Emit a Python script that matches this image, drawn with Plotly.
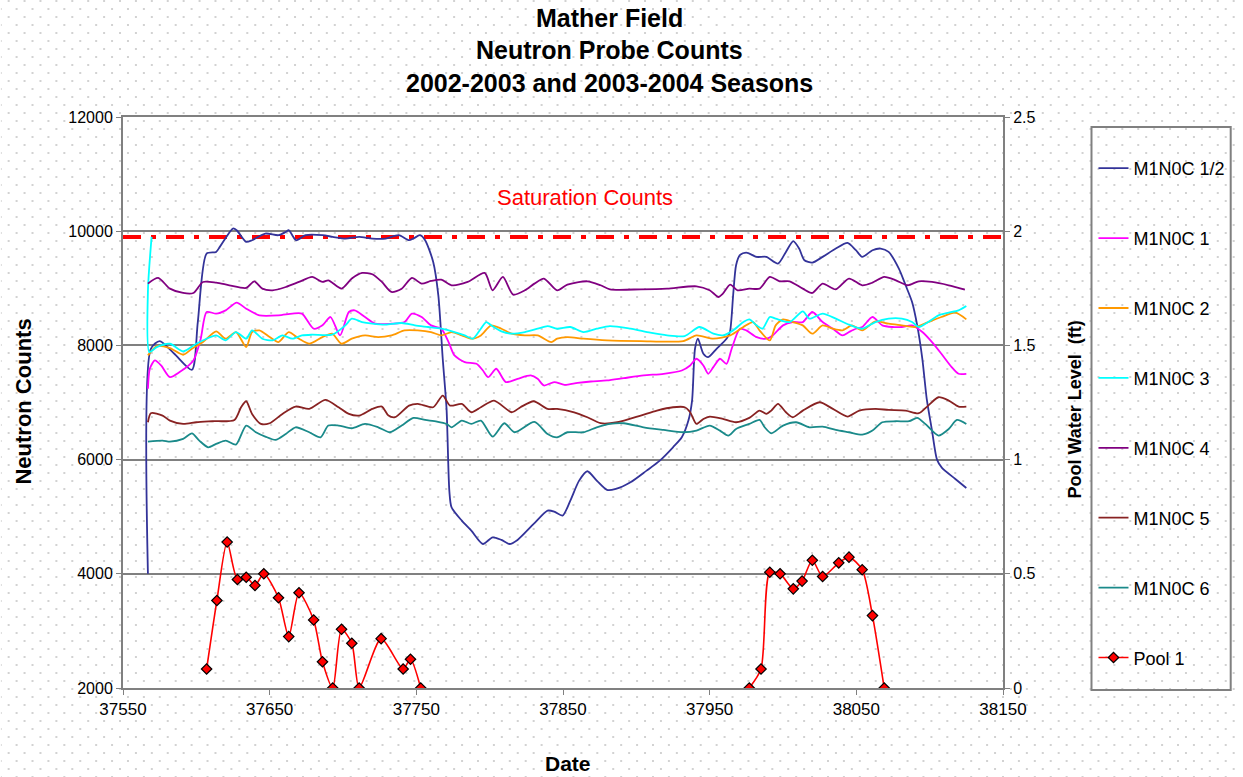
import base64
import plotly.graph_objects as go

# ---------------- data ----------------
m12_x = [37567, 37569, 37575, 37585, 37597, 37601, 37607, 37613.5, 37616, 37625, 37627.5, 37634, 37638,
         37647, 37656, 37661, 37663, 37668, 37674.5, 37686, 37693, 37701.6, 37711, 37720, 37729, 37738,
         37745, 37748, 37752.5, 37756, 37761.5, 37765, 37768, 37770.6, 37772.5, 37774, 37781, 37787.5,
         37795.4, 37802, 37808, 37813.5, 37819, 37830, 37839.5, 37844, 37849.7, 37855, 37861, 37866.6,
         37873, 37880, 37886, 37896, 37907, 37916, 37925, 37931, 37935.5, 37938, 37940, 37942, 37945.7,
         37949, 37954.7, 37961.5, 37963.8, 37966, 37968, 37970.6, 37975, 37982, 37988.6, 37996.6, 38002,
         38007, 38011, 38014.6, 38020, 38027, 38036, 38044, 38049.7, 38054, 38061, 38066.6, 38072, 38079,
         38083.6, 38088, 38091.5, 38095, 38098, 38101.6, 38105, 38108.4, 38117.5, 38125]
m12_y = [4000, 7941, 8076, 7854, 7573, 8409, 9608, 9637, 9725, 10047, 10018, 9813, 9842,
         9959, 9930, 9988, 10018, 9842, 9930, 9930, 9901, 9871, 9901, 9871, 9871, 9930,
         9842, 9871, 9930, 9842, 9462, 8877, 7766, 6889, 5457, 5165, 4931, 4756,
         4522, 4639, 4593, 4522, 4593, 4873, 5106, 5089, 5019, 5282, 5632, 5796,
         5632, 5469, 5486, 5603, 5807, 5982, 6216, 6391, 6683, 7034, 7941, 8117, 7854,
         7795, 7941, 8117, 8234, 8877, 9404, 9579, 9626, 9550, 9550, 9433, 9637,
         9825, 9696, 9491, 9450, 9550, 9696, 9795, 9667, 9550, 9667, 9696, 9637, 9345,
         9053, 8760, 8351, 7766, 7064, 6508, 6000, 5854, 5661, 5503]

m1_x = [37567, 37568.3, 37571.7, 37576, 37582, 37588.6, 37598, 37603, 37607, 37613.5, 37620, 37627.5,
        37634, 37643, 37656, 37665.5, 37672, 37680, 37686, 37691.5, 37698, 37704, 37708, 37715, 37722,
        37733, 37742, 37747, 37753.6, 37760, 37767, 37772, 37776, 37783, 37791, 37795.4, 37799, 37804.5,
        37811, 37819, 37828, 37832.7, 37837, 37844, 37851, 37860, 37869, 37880, 37891.5, 37905, 37918.6,
        37931, 37936.7, 37941, 37945.7, 37949, 37952.5, 37957, 37961.5, 37965, 37970.6, 37975, 37982,
        37988.6, 37993, 38000, 38006.7, 38013.5, 38020, 38027, 38034, 38040.6, 38045, 38049.7, 38054,
        38061, 38067.7, 38074.5, 38081, 38088, 38095, 38101.6, 38108, 38115, 38119.7, 38125]
m1_y = [7240, 7591, 7737, 7649, 7444, 7532, 7737, 8117, 8585, 8556, 8614, 8749,
        8643, 8526, 8526, 8556, 8556, 8292, 8351, 8497, 8175, 8585, 8614, 8497, 8380,
        8380, 8409, 8556, 8497, 8351, 8292, 8058, 7825, 7708, 7678, 7561, 7444, 7591,
        7357, 7415, 7474, 7415, 7298, 7357, 7310, 7345, 7368, 7386, 7427, 7474, 7503,
        7561, 7649, 7766, 7649, 7503, 7620, 7766, 7678, 7941, 8292, 8263, 8146,
        8117, 8175, 8351, 8409, 8409, 8585, 8409, 8292, 8175, 8234, 8292, 8322,
        8497, 8351, 8322, 8322, 8351, 8234, 8058, 7854, 7620, 7503, 7503]

m2_x = [37567, 37573, 37582, 37591, 37597, 37604.5, 37613.5, 37620, 37627, 37634, 37638, 37643, 37650,
        37656, 37663, 37670, 37677, 37686, 37692.6, 37699, 37706, 37715, 37724, 37733, 37742, 37751,
        37760, 37767, 37774, 37781, 37787.5, 37794, 37801, 37808, 37815, 37824, 37832.7, 37842, 37846,
        37853, 37864, 37880, 37903, 37932, 37941, 37952.5, 37964, 37973, 37979.6, 37984, 37991, 37995,
        38000, 38006.7, 38013.5, 38020, 38027, 38034, 38040.6, 38047, 38054, 38063, 38072, 38081, 38090,
        38099, 38108, 38117.5, 38125]
m2_y = [7825, 7988, 7953, 7836, 7941, 8058, 8246, 8117, 8234, 7971, 8234, 8263, 8146,
        8058, 8234, 8117, 8029, 8146, 8205, 8029, 8117, 8175, 8146, 8175, 8263, 8263,
        8234, 8175, 8234, 8175, 8117, 8175, 8351, 8292, 8205, 8175, 8175, 8058, 8117,
        8146, 8117, 8088, 8076, 8076, 8175, 8117, 8175, 8322, 8409, 8263, 8088, 8351,
        8456, 8409, 8351, 8205, 8351, 8292, 8263, 8351, 8263, 8421, 8380, 8351, 8322,
        8409, 8497, 8573, 8456]

m3_x = [37569.5, 37567, 37568, 37573, 37582, 37591, 37600, 37607, 37613.5, 37620, 37627, 37634, 37638,
        37645, 37652, 37658.7, 37665.5, 37672, 37679, 37692.6, 37701.6, 37706, 37713, 37720, 37729,
        37740, 37749, 37758, 37767, 37776, 37783, 37788.6, 37794, 37797.7, 37801, 37808, 37815, 37824,
        37832.7, 37839.5, 37846, 37855, 37864, 37873, 37882, 37896, 37909.5, 37921, 37933, 37943,
        37952.5, 37959, 37966, 37973, 37977, 37982, 37986, 37991, 37995, 38004.5, 38013.5, 38018, 38027,
        38036, 38045, 38054, 38063, 38072, 38081, 38088, 38092.6, 38099, 38106, 38113, 38119.7, 38125]
m3_y = [9900, 8950, 7883, 7971, 8029, 7895, 8029, 8117, 8175, 8088, 8234, 8117, 8263,
        8117, 8088, 8175, 8117, 8175, 8187, 8187, 8351, 8468, 8409, 8380, 8363,
        8392, 8351, 8322, 8292, 8234, 8175, 8117, 8292, 8409, 8351, 8246, 8205, 8234,
        8292, 8339, 8292, 8322, 8234, 8292, 8339, 8292, 8222, 8175, 8164, 8322,
        8205, 8175, 8263, 8409, 8456, 8351, 8292, 8497, 8468, 8409, 8596, 8468, 8556,
        8468, 8363, 8292, 8409, 8468, 8468, 8409, 8322, 8409, 8526, 8573, 8614, 8690]

m4_x = [37567, 37574, 37582, 37591, 37598, 37604.5, 37613.5, 37622.5, 37634, 37639.5, 37645, 37652, 37661,
        37670, 37679, 37686, 37690, 37699, 37706, 37713, 37720, 37726.5, 37733, 37740, 37747, 37753.6,
        37760, 37767, 37774, 37785, 37796.6, 37802, 37809, 37816, 37824, 37830.5, 37837, 37846, 37853,
        37866.6, 37875.6, 37882, 37903, 37921, 37941, 37950, 37956, 37959, 37964, 37969, 37977, 37984,
        37991, 37997.7, 38004.5, 38013.5, 38020, 38027, 38036, 38045, 38054, 38061, 38069, 38077, 38085,
        38092.6, 38101.6, 38113, 38124]
m4_y = [9082, 9181, 8994, 8918, 8918, 9111, 9099, 9053, 9006, 9123, 8994, 8965, 9023,
        9111, 9199, 9111, 9140, 8994, 9170, 9269, 9246, 9111, 8936, 8994, 9181, 9082,
        9129, 9152, 9053, 9111, 9269, 8965, 9199, 8889, 8965, 9082, 9170, 8965, 9064,
        9123, 9053, 8982, 8982, 8994, 9035, 8965, 8848, 8906, 9064, 8965, 8994, 8994,
        9199, 9123, 9123, 8994, 8918, 9082, 8982, 9170, 9053, 9099, 9199, 9140, 9053,
        9123, 9111, 9053, 8977]

m5_x = [37567, 37569, 37577, 37582, 37591, 37600, 37611, 37626, 37630.5, 37634, 37638, 37644, 37650,
        37658.7, 37667.7, 37677, 37688, 37697, 37704, 37711, 37720, 37726.5, 37731, 37735.5, 37745, 37751,
        37761.5, 37768, 37773, 37781, 37787.5, 37794, 37803, 37815, 37821, 37830, 37839.5, 37846, 37857.6,
        37866.6, 37875.6, 37887, 37903, 37914, 37925, 37933, 37936.7, 37941, 37945.7, 37950, 37959, 37968,
        37977, 37984, 37988.6, 37992, 37996.6, 38002, 38006.7, 38013.5, 38025, 38034, 38044, 38052, 38063,
        38072, 38083.6, 38092.6, 38099, 38106, 38113, 38119.7, 38125]
m5_y = [6654, 6812, 6771, 6683, 6625, 6654, 6672, 6695, 6917, 7022, 6800, 6625, 6637,
        6800, 6929, 6888, 7045, 6917, 6800, 6771, 6888, 6929, 6771, 6742, 6946, 6975,
        6917, 7121, 6946, 6975, 6829, 6917, 7034, 6829, 6917, 7022, 6888, 6888, 6829,
        6742, 6637, 6654, 6771, 6858, 6917, 6917, 6829, 6625, 6712, 6753, 6712, 6654,
        6730, 6858, 6800, 6858, 6975, 6829, 6742, 6858, 7004, 6888, 6753, 6858, 6888,
        6870, 6858, 6812, 6946, 7092, 7034, 6929, 6929]

m6_x = [37567, 37577, 37582, 37591, 37597, 37602, 37608, 37613.5, 37620, 37627, 37634, 37640.6, 37647,
        37654, 37661, 37667.7, 37677, 37684.7, 37690, 37697, 37706, 37715, 37724, 37732, 37740, 37748,
        37756, 37764, 37770.6, 37774, 37781, 37787.5, 37794, 37802, 37810, 37817, 37830.5, 37839.5, 37846,
        37853, 37864, 37873, 37882, 37891.5, 37905, 37918.6, 37932, 37941, 37950, 37957, 37962.7, 37968,
        37977, 37984, 37987.5, 37992, 38000, 38009, 38018, 38027, 38036, 38045, 38054, 38061, 38067.7,
        38077, 38086, 38091.5, 38097, 38106, 38113, 38118.6, 38125]
m6_y = [6315, 6333, 6315, 6362, 6461, 6333, 6216, 6274, 6333, 6263, 6596, 6479, 6403,
        6345, 6450, 6566, 6479, 6391, 6596, 6596, 6549, 6625, 6566, 6479, 6596, 6730,
        6695, 6666, 6625, 6566, 6683, 6625, 6683, 6403, 6637, 6479, 6660, 6450, 6391,
        6479, 6479, 6566, 6625, 6637, 6566, 6520, 6479, 6508, 6596, 6508, 6420, 6537,
        6625, 6695, 6566, 6461, 6596, 6654, 6566, 6578, 6520, 6479, 6438, 6508, 6654,
        6672, 6672, 6730, 6625, 6420, 6537, 6695, 6625]

pool_x = [37607, 37614, 37621, 37628, 37634, 37640, 37646, 37656, 37663, 37670, 37680, 37686, 37693,
          37699, 37706, 37711, 37726, 37741, 37746, 37753, None,
          37977, 37985, 37991, 37998, 38007, 38013, 38020, 38027, 38038, 38045, 38054, 38061, 38069]
pool_y = [0.083, 0.383, 0.639, 0.475, 0.485, 0.449, 0.5, 0.395, 0.225, 0.417, 0.298, 0.115, 0,
          0.257, 0.196, 0, 0.216, 0.083, 0.126, 0, None,
          0, 0.083, 0.507, 0.5, 0.434, 0.468, 0.559, 0.488, 0.548, 0.573, 0.518, 0.317, 0]

saturation_x = [37550, 38150]
saturation_y = [9900, 9900]

series = [
    ("M1N0C 1/2", m12_x, m12_y, "#333399"),
    ("M1N0C 1", m1_x, m1_y, "#FF00FF"),
    ("M1N0C 2", m2_x, m2_y, "#FF9900"),
    ("M1N0C 3", m3_x, m3_y, "#00FFFF"),
    ("M1N0C 4", m4_x, m4_y, "#800080"),
    ("M1N0C 5", m5_x, m5_y, "#882222"),
    ("M1N0C 6", m6_x, m6_y, "#1A8A8A"),
]

title_lines = ["Mather Field", "Neutron Probe Counts", "2002-2003 and 2003-2004 Seasons"]

FONT = "Liberation Sans, Arial, sans-serif"

# ---------------- figure ----------------
W, H = 1243, 777
L, R, T, B = 123, 235, 117, 89
pw, ph = W - L - R, H - T - B

fig = go.Figure()

fig.add_trace(go.Scatter(x=saturation_x, y=saturation_y, mode="lines", showlegend=False,
                         line=dict(color="#FF0000", width=4, dash="18px,10px,5px,10px"),
                         hoverinfo="skip"))

for i, (name, xs, ys, col) in enumerate(series):
    fig.add_trace(go.Scatter(x=xs, y=ys, name=name, mode="lines", legendgroup=f"g{i}",
                             line=dict(color=col, width=1.8, shape="spline", smoothing=0.7)))

fig.add_trace(go.Scatter(x=pool_x, y=pool_y, name="Pool 1", mode="lines+markers", yaxis="y2",
                         legendgroup="g7", connectgaps=False,
                         line=dict(color="#FF0000", width=1.6, shape="spline", smoothing=0.7),
                         marker=dict(symbol="diamond", size=8, color="#FF0000",
                                     line=dict(color="#000000", width=1.2))))

# dotted page background
svg = (f'<svg xmlns="http://www.w3.org/2000/svg" width="{W}" height="{H}">'
       '<defs><pattern id="p" x="4" y="0" width="16" height="16" patternUnits="userSpaceOnUse">'
       '<rect x="3" y="0" width="2" height="2" fill="#d2d2d2"/>'
       '<rect x="11" y="8" width="2" height="2" fill="#d2d2d2"/>'
       '</pattern></defs>'
       f'<rect width="{W}" height="{H}" fill="url(#p)"/></svg>')
src = "data:image/svg+xml;base64," + base64.b64encode(svg.encode()).decode()
fig.add_layout_image(dict(source=src, xref="paper", yref="paper", x=-L / pw, y=1 + T / ph,
                          sizex=W / pw, sizey=H / ph, xanchor="left", yanchor="top",
                          sizing="stretch", layer="below"))

def px_x(p):
    return (p - L) / pw

def px_y(p):
    return (H - B - p) / ph

def note(text, xp, yp, size, color="#000", angle=0):
    return dict(text=text, x=px_x(xp), y=px_y(yp), xref="paper", yref="paper", showarrow=False,
                xanchor="center", yanchor="middle", textangle=angle,
                font=dict(family=FONT, size=size, color=color))

annotations = []
for txt, yp in zip(title_lines, [18, 50, 83]):
    annotations.append(note(f"<b>{txt}</b>", 612, yp, 25))
annotations.append(note("Saturation Counts", 588, 197, 22, "#FF0000"))
annotations.append(note("<b>Neutron Counts</b>", 22, 402, 22, angle=-90))
annotations.append(note("<b>Pool Water Level  (ft)</b>", 1080, 410, 18, angle=-90))
annotations.append(note("<b>Date</b>", 571, 763, 21))

fig.update_layout(
    width=W, height=H,
    margin=dict(l=L, r=R, t=T, b=B, pad=0),
    paper_bgcolor="#FFFFFF",
    plot_bgcolor="rgba(0,0,0,0)",
    font=dict(family=FONT, size=16, color="#000"),
    annotations=annotations,
    showlegend=True,
    legend=dict(x=px_x(1099), y=px_y(150), xanchor="left", yanchor="top", xref="paper", yref="paper",
                bgcolor="rgba(0,0,0,0)", borderwidth=0, tracegroupgap=43.5, traceorder="grouped",
                font=dict(family=FONT, size=18, color="#000")),
    shapes=[dict(type="rect", xref="paper", yref="paper", x0=px_x(1097), x1=px_x(1237),
                 y0=px_y(690), y1=px_y(127), line=dict(color="#808080", width=2))],
    xaxis=dict(range=[37550, 38150], tick0=37550, dtick=100, tickformat="d", showgrid=False,
               zeroline=False, showline=True, linecolor="#808080", linewidth=2, mirror=True,
               ticks="outside", ticklen=5, tickcolor="#808080", tickfont=dict(size=17)),
    yaxis=dict(range=[2000, 12000], tick0=2000, dtick=2000, tickformat="d", showgrid=True,
               gridcolor="#808080", gridwidth=1.5, zeroline=False, showline=True, linecolor="#808080",
               linewidth=2, ticks="outside", ticklen=5, tickcolor="#808080", tickfont=dict(size=16)),
    yaxis2=dict(range=[0, 2.5], dtick=0.5, overlaying="y", side="right", showgrid=False, zeroline=False,
                showline=True, linecolor="#808080", linewidth=2, ticks="outside", ticklen=5,
                tickcolor="#808080", tickfont=dict(size=16)),
)

fig.write_html("out.html", config={"displayModeBar": False},
               post_script="document.body.style.margin='0';document.body.style.overflow='hidden';")
